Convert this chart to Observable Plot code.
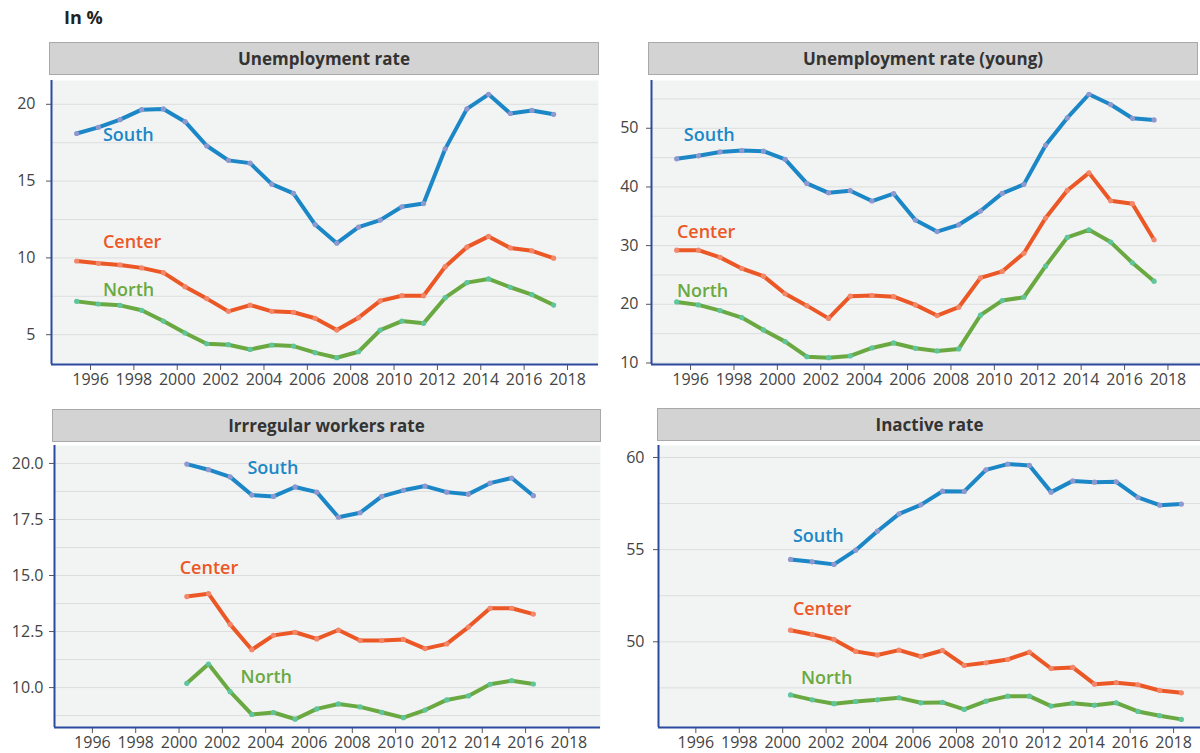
<!DOCTYPE html>
<html><head><meta charset="utf-8">
<script src="https://cdn.jsdelivr.net/npm/d3@7"></script>
<script src="https://cdn.jsdelivr.net/npm/@observablehq/plot@0.6"></script>
<style>
body{margin:0;background:#fff;font-family:"Open Sans",sans-serif;}
#wrap{position:relative;width:1200px;height:753px;overflow:hidden;background:#fff;}
.hdr{position:absolute;box-sizing:border-box;background:#d3d3d3;border:1.5px solid #a9a9a9;font-weight:700;font-size:17px;color:#333;display:flex;align-items:center;justify-content:center;}
.pl{position:absolute;}
#title{position:absolute;left:64px;top:5px;font-weight:700;font-size:18px;color:#222;}
</style></head><body>
<div id="wrap"><div id="title">In %</div></div>
<script>
// ---------- data ----------
const yearsA = [1995,1996,1997,1998,1999,2000,2001,2002,2003,2004,2005,2006,2007,2008,2009,2010,2011,2012,2013,2014,2015,2016,2017];
const yearsB = [2000,2001,2002,2003,2004,2005,2006,2007,2008,2009,2010,2011,2012,2013,2014,2015,2016];
const yearsC = [2000,2001,2002,2003,2004,2005,2006,2007,2008,2009,2010,2011,2012,2013,2014,2015,2016,2017,2018];

const unempSouth  = [18.1,18.5,19.0,19.65,19.7,18.87,17.3,16.35,16.17,14.8,14.2,12.17,10.96,12.0,12.46,13.33,13.54,17.1,19.7,20.65,19.4,19.6,19.35];
const unempCenter = [9.8,9.65,9.54,9.35,9.04,8.13,7.35,6.52,6.93,6.52,6.46,6.07,5.3,6.11,7.2,7.54,7.54,9.43,10.7,11.4,10.65,10.46,9.98];
const unempNorth  = [7.17,7.0,6.91,6.59,5.89,5.11,4.41,4.35,4.04,4.33,4.26,3.83,3.5,3.89,5.3,5.89,5.74,7.41,8.39,8.63,8.09,7.61,6.93];

const youngSouth  = [44.8,45.3,45.96,46.2,46.1,44.7,40.6,39.0,39.36,37.6,38.85,34.35,32.4,33.55,35.9,38.9,40.44,47.1,51.76,55.8,54.04,51.7,51.42];
const youngCenter = [29.23,29.23,28.0,26.1,24.8,21.8,19.77,17.6,21.38,21.5,21.3,19.9,18.08,19.5,24.5,25.6,28.7,34.7,39.4,42.4,37.65,37.14,31.0];
const youngNorth  = [20.4,19.9,18.93,17.74,15.63,13.64,11.08,10.9,11.2,12.56,13.41,12.5,12.05,12.4,18.14,20.64,21.2,26.5,31.4,32.7,30.6,27.07,23.94];

const irrSouth  = [19.97,19.72,19.4,18.59,18.53,18.95,18.72,17.6,17.8,18.53,18.8,18.99,18.72,18.63,19.12,19.35,18.56];
const irrCenter = [14.06,14.19,12.82,11.69,12.33,12.47,12.17,12.57,12.1,12.1,12.15,11.74,11.95,12.7,13.54,13.54,13.28];
const irrNorth  = [10.19,11.05,9.82,8.8,8.89,8.59,9.05,9.27,9.14,8.9,8.66,9.0,9.45,9.63,10.15,10.31,10.16];

const inactSouth  = [54.47,54.34,54.2,54.97,56.0,56.94,57.43,58.17,58.16,59.33,59.64,59.57,58.12,58.73,58.66,58.68,57.83,57.41,57.47];
const inactCenter = [50.63,50.4,50.13,49.48,49.28,49.55,49.2,49.53,48.72,48.86,49.04,49.44,48.55,48.61,47.7,47.78,47.67,47.36,47.23];
const inactNorth  = [47.12,46.85,46.64,46.76,46.85,46.96,46.69,46.71,46.33,46.78,47.05,47.05,46.51,46.67,46.56,46.69,46.22,45.99,45.79];

const regions = ["South","Center","North"];
const xTickYears = [1996,1998,2000,2002,2004,2006,2008,2010,2012,2014,2016,2018];
const panelTitles = ["Unemployment rate","Unemployment rate (young)","Irrregular workers rate","Inactive rate"];

// ---------- styles ----------
const lineColor = {South:"#1b87c7", Center:"#ec5726", North:"#6aa941"};
const dotColor  = {South:"#9099cf", Center:"#f3876a", North:"#5ec59c"};
const axisBlue = "#2a4b9f";
const pointOffset = 0.36;

const wrap = document.getElementById("wrap");

function panel(cfg){
  const hdr = document.createElement("div");
  hdr.className = "hdr";
  Object.assign(hdr.style,{left:cfg.hdr[0]+"px",top:cfg.hdr[1]+"px",width:cfg.hdr[2]+"px",height:cfg.hdr[3]+"px"});
  hdr.textContent = cfg.title;
  wrap.appendChild(hdr);

  const marks = [Plot.frame({fill:"#f2f4f3", stroke:"none"}),
    Plot.ruleY(cfg.grid,{stroke:"#dcdede", strokeWidth:1})];
  cfg.series.forEach((s)=>{
    const rows = s.years.map((yr,i)=>({x:yr+pointOffset, y:s.values[i]}));
    marks.push(Plot.line(rows,{x:"x",y:"y",stroke:lineColor[s.name],strokeWidth:4}));
    marks.push(Plot.dot(rows,{x:"x",y:"y",r:2.6,fill:dotColor[s.name],stroke:"none"}));
  });
  marks.push(Plot.text(cfg.labels,{x:"x",y:"y",text:"name",fill:d=>lineColor[d.name],textAnchor:"start",fontSize:18,fontWeight:600}));
  marks.push(Plot.axisX({ticks:xTickYears,tickSize:6,tickPadding:3,tickFormat:d=>String(d),stroke:"#555",fill:"#444",label:null}));
  marks.push(Plot.axisY({ticks:cfg.yTicks,tickSize:5,tickPadding:cfg.tickPad,tickFormat:cfg.fmt,stroke:"#555",fill:"#444",label:null}));
  marks.push(Plot.ruleX([cfg.x[0]],{stroke:axisBlue,strokeWidth:2}));
  marks.push(Plot.ruleY([cfg.y[0]],{stroke:axisBlue,strokeWidth:2}));

  const svg = Plot.plot({
    width:cfg.w, height:cfg.h,
    marginTop:cfg.m[0], marginRight:cfg.m[1], marginBottom:cfg.m[2], marginLeft:cfg.m[3],
    x:{domain:cfg.x, type:"linear", label:null}, y:{domain:cfg.y, type:"linear", label:null},
    style:{fontFamily:"Open Sans, sans-serif",fontSize:"16px",background:"transparent",overflow:"visible"},
    marks
  });
  svg.classList.add("pl");
  svg.style.left = cfg.pos[0]+"px";
  svg.style.top = cfg.pos[1]+"px";
  svg.style.position = "absolute";
  wrap.appendChild(svg);
}

const mk = (names, vals) => names.map((n,i)=>({name:n, x:vals[i][0], y:vals[i][1]}));

panel({title:panelTitles[0], hdr:[49,42,550,33], pos:[0,76], w:600, h:318, m:[4,2,30,51],
  x:[1994.2,2019.43], y:[3.06,21.55], grid:[5,7.5,10,12.5,15,17.5,20], yTicks:[5,10,15,20], tickPad:11, fmt:d=>String(d),
  series:[{name:"South",years:yearsA,values:unempSouth},{name:"Center",years:yearsA,values:unempCenter},{name:"North",years:yearsA,values:unempNorth}],
  labels:mk(regions,[[1996.57,17.96],[1996.57,11.04],[1996.57,7.9]])});

panel({title:panelTitles[1], hdr:[648,42,550,33], pos:[600,76], w:600, h:318, m:[4,0,30,51],
  x:[1994.2,2019.5], y:[9.74,58.14], grid:[10,15,20,25,30,35,40,45,50,55], yTicks:[10,20,30,40,50], tickPad:8, fmt:d=>String(d),
  series:[{name:"South",years:yearsA,values:youngSouth},{name:"Center",years:yearsA,values:youngCenter},{name:"North",years:yearsA,values:youngNorth}],
  labels:mk(regions,[[1995.69,48.75],[1995.37,32.36],[1995.37,22.3]])});

panel({title:panelTitles[2], hdr:[52,409,549,33], pos:[0,441], w:602, h:312, m:[4,2,26,54],
  x:[1994.25,2019.46], y:[8.22,20.8], grid:[8.75,10,11.25,12.5,13.75,15,16.25,17.5,18.75,20], yTicks:[10,12.5,15,17.5,20], tickPad:6, fmt:d3.format(".1f"),
  series:[{name:"South",years:yearsB,values:irrSouth},{name:"Center",years:yearsB,values:irrCenter},{name:"North",years:yearsB,values:irrNorth}],
  labels:mk(regions,[[2003.16,19.78],[2000.03,15.32],[2002.84,10.46]])});

panel({title:panelTitles[3], hdr:[657,408,545,33], pos:[600,441], w:600, h:312, m:[4,0,26,58],
  x:[1994.28,2019.24], y:[45.35,60.65], grid:[47.5,50,52.5,55,57.5,60], yTicks:[50,55,60], tickPad:9, fmt:d=>String(d),
  series:[{name:"South",years:yearsC,values:inactSouth},{name:"Center",years:yearsC,values:inactCenter},{name:"North",years:yearsC,values:inactNorth}],
  labels:mk(regions,[[2000.47,55.71],[2000.47,51.75],[2000.84,48.0]])});
</script>
</body></html>
